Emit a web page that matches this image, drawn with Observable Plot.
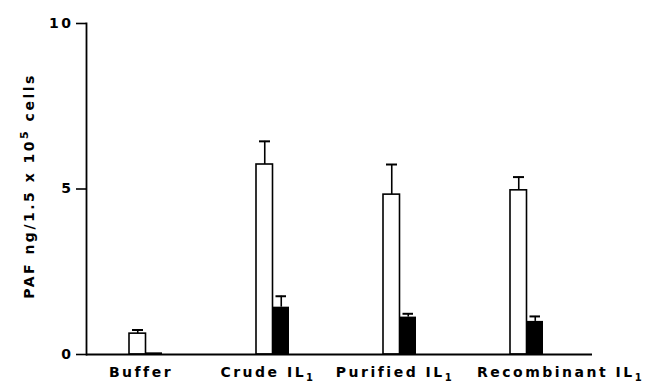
<!DOCTYPE html>
<html>
<head>
<meta charset="utf-8">
<script src="https://cdn.jsdelivr.net/npm/d3@7"></script>
<script src="https://cdn.jsdelivr.net/npm/@observablehq/plot@0.6"></script>
<style>
  html, body { margin: 0; padding: 0; background: #fff; }
  svg text { font-family: "DejaVu Sans", sans-serif; font-weight: bold; letter-spacing: 2.5px; }
  svg text.xl { letter-spacing: 1.8px; }
</style>
</head>
<body>
<div id="chart"></div>
<script>
const categories = ["Buffer", "Crude IL₁", "Purified IL₁", "Recombinant IL₁"];
const openValues = [0.63, 5.74, 4.83, 4.96];
const openErrors = [0.11, 0.70, 0.91, 0.40];
const filledValues = [0.05, 1.43, 1.13, 1.00];
const filledErrors = [0, 0.33, 0.10, 0.15];
const yTicks = [0, 5, 10];
const yLabel = "PAF ng/1.5 x 10⁵ cells";

const openData = categories.map((c, i) => ({cat: c, v: openValues[i], e: openErrors[i]}));
const filledData = categories.map((c, i) => ({cat: c, v: filledValues[i], e: filledErrors[i]}));
const filledErr = filledData.filter(d => d.e > 0);

const half = 16.5;

const svg = Plot.plot({
  width: 647,
  height: 386,
  marginLeft: 86,
  marginRight: 55,
  marginTop: 23,
  marginBottom: 32,
  style: {fontSize: "14px", fontFamily: "DejaVu Sans", background: "#fff", color: "#000"},
  x: {domain: categories, paddingInner: 0.74, paddingOuter: 0.36, align: 0.47, axis: null},
  y: {domain: [0, 10], axis: null},
  marks: [
    Plot.axisY({ticks: yTicks, tickSize: 10, tickPadding: 3, label: null, fontSize: 14, stroke: "#000", strokeWidth: 1.6, fill: "#000"}),
    Plot.frame({anchor: "left", stroke: "#000", strokeWidth: 1.8}),
    // error stems
    Plot.ruleX(openData, {x: "cat", y1: "v", y2: d => d.v + d.e, dx: -half / 2, stroke: "#000", strokeWidth: 1.6}),
    Plot.ruleX(filledErr, {x: "cat", y1: "v", y2: d => d.v + d.e, dx: half / 2, stroke: "#000", strokeWidth: 1.6}),
    // caps
    Plot.tickY(openData, {x: "cat", y: d => d.v + d.e, insetLeft: 3, insetRight: 2 * half - 14, stroke: "#000", strokeWidth: 2}),
    Plot.tickY(filledErr, {x: "cat", y: d => d.v + d.e, insetLeft: half + 3, insetRight: 3, stroke: "#000", strokeWidth: 2}),
    // bars
    Plot.barY(openData, {x: "cat", y: "v", insetRight: half, fill: "#fff", stroke: "#000", strokeWidth: 1.6}),
    Plot.barY(filledData, {x: "cat", y: "v", insetLeft: half, fill: "#000"}),
    Plot.ruleY([0], {stroke: "#000", strokeWidth: 1.8}),
    // x labels
    Plot.text(categories.slice(0, 3), {x: d => d, text: d => d, frameAnchor: "bottom", dy: 22, dx: -5, fill: "#000", fontSize: 14, className: "xl"}),
    Plot.text(categories.slice(3), {x: d => d, text: d => d, frameAnchor: "bottom", dy: 22, dx: -50, textAnchor: "start", fill: "#000", fontSize: 14, className: "xl"}),
    // y label
    Plot.text([yLabel], {text: d => d, frameAnchor: "left", textAnchor: "middle", rotate: -90, dx: -53, dy: -3, lineAnchor: "bottom", fill: "#000", fontSize: 14})
  ]
});

// render sub/superscripts with tspans
svg.querySelectorAll("text").forEach(t => {
  const s = t.textContent;
  if (!/[⁵₁]/.test(s)) return;
  while (t.firstChild) t.removeChild(t.firstChild);
  const ns = "http://www.w3.org/2000/svg";
  let shift = 0;
  const parts = s.split(/([⁵₁])/);
  parts.forEach(p => {
    if (!p) return;
    const ts = document.createElementNS(ns, "tspan");
    if (p === "⁵") {
      ts.textContent = "5";
      ts.setAttribute("font-size", "11");
      ts.setAttribute("dy", String(-6 - shift));
      shift = -6;
    } else if (p === "₁") {
      ts.textContent = "1";
      ts.setAttribute("font-size", "10");
      ts.setAttribute("dy", String(4 - shift));
      shift = 4;
    } else {
      ts.textContent = p;
      if (shift !== 0) { ts.setAttribute("dy", String(-shift)); shift = 0; }
    }
    t.appendChild(ts);
  });
});

document.getElementById("chart").appendChild(svg);
</script>
</body>
</html>
